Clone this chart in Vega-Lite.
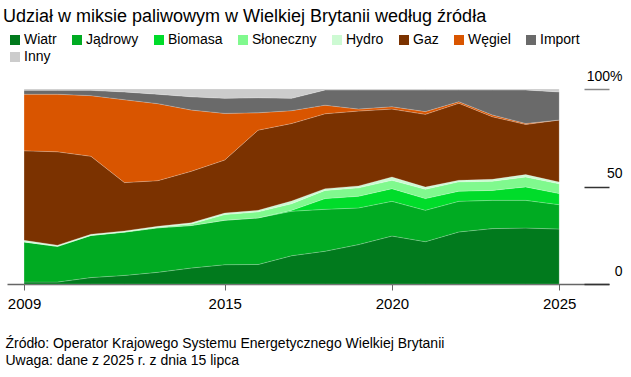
{
  "$schema": "https://vega.github.io/schema/vega-lite/v6.json",
  "autosize": {"type": "none"},
  "width": 602,
  "height": 195,
  "padding": {"left": 7, "top": 89, "right": 22, "bottom": 93},
  "background": "white",
  "config": {
    "font": "Liberation Sans",
    "view": {"stroke": null},
    "title": {"font": "Liberation Sans", "fontSize": 18, "fontWeight": "normal", "color": "#000000", "anchor": "start", "offset": 7, "dx": -2}
  },
  "title": "Udział w miksie paliwowym w Wielkiej Brytanii według źródła",
  "datasets": {
    "kolejnosc": [
      {"s":"Wiatr","k":1},{"s":"Jądrowy","k":2},{"s":"Biomasa","k":3},{"s":"Słoneczny","k":4},{"s":"Hydro","k":5},{"s":"Gaz","k":6},{"s":"Węgiel","k":7},{"s":"Import","k":8},{"s":"Inny","k":9}
    ]
  },
  "data": {
    "values": [
      {"r":2009,"s":"Wiatr","v":1.0},{"r":2009,"s":"Jądrowy","v":20.6},{"r":2009,"s":"Biomasa","v":0},{"r":2009,"s":"Słoneczny","v":0},{"r":2009,"s":"Hydro","v":0.8},{"r":2009,"s":"Gaz","v":45.9},{"r":2009,"s":"Węgiel","v":29.0},{"r":2009,"s":"Import","v":2.0},{"r":2009,"s":"Inny","v":0.7},
      {"r":2010,"s":"Wiatr","v":1.0},{"r":2010,"s":"Jądrowy","v":18.3},{"r":2010,"s":"Biomasa","v":0},{"r":2010,"s":"Słoneczny","v":0},{"r":2010,"s":"Hydro","v":0.6},{"r":2010,"s":"Gaz","v":47.9},{"r":2010,"s":"Węgiel","v":29.5},{"r":2010,"s":"Import","v":2.0},{"r":2010,"s":"Inny","v":0.7},
      {"r":2011,"s":"Wiatr","v":3.3},{"r":2011,"s":"Jądrowy","v":21.6},{"r":2011,"s":"Biomasa","v":0},{"r":2011,"s":"Słoneczny","v":0.1},{"r":2011,"s":"Hydro","v":0.5},{"r":2011,"s":"Gaz","v":40.0},{"r":2011,"s":"Węgiel","v":31.1},{"r":2011,"s":"Import","v":2.7},{"r":2011,"s":"Inny","v":0.7},
      {"r":2012,"s":"Wiatr","v":4.4},{"r":2012,"s":"Jądrowy","v":22.2},{"r":2012,"s":"Biomasa","v":0},{"r":2012,"s":"Słoneczny","v":0.2},{"r":2012,"s":"Hydro","v":0.4},{"r":2012,"s":"Gaz","v":24.8},{"r":2012,"s":"Węgiel","v":42.5},{"r":2012,"s":"Import","v":4.0},{"r":2012,"s":"Inny","v":1.5},
      {"r":2013,"s":"Wiatr","v":6.0},{"r":2013,"s":"Jądrowy","v":22.8},{"r":2013,"s":"Biomasa","v":0},{"r":2013,"s":"Słoneczny","v":0.3},{"r":2013,"s":"Hydro","v":0.5},{"r":2013,"s":"Gaz","v":23.4},{"r":2013,"s":"Węgiel","v":39.5},{"r":2013,"s":"Import","v":4.8},{"r":2013,"s":"Inny","v":2.7},
      {"r":2014,"s":"Wiatr","v":8.2},{"r":2014,"s":"Jądrowy","v":21.8},{"r":2014,"s":"Biomasa","v":0},{"r":2014,"s":"Słoneczny","v":0.8},{"r":2014,"s":"Hydro","v":0.6},{"r":2014,"s":"Gaz","v":26.4},{"r":2014,"s":"Węgiel","v":31.4},{"r":2014,"s":"Import","v":6.8},{"r":2014,"s":"Inny","v":4.0},
      {"r":2015,"s":"Wiatr","v":9.9},{"r":2015,"s":"Jądrowy","v":22.8},{"r":2015,"s":"Biomasa","v":0},{"r":2015,"s":"Słoneczny","v":2.9},{"r":2015,"s":"Hydro","v":0.8},{"r":2015,"s":"Gaz","v":27.2},{"r":2015,"s":"Węgiel","v":23.9},{"r":2015,"s":"Import","v":7.7},{"r":2015,"s":"Inny","v":4.8},
      {"r":2016,"s":"Wiatr","v":10.0},{"r":2016,"s":"Jądrowy","v":23.9},{"r":2016,"s":"Biomasa","v":0},{"r":2016,"s":"Słoneczny","v":3.1},{"r":2016,"s":"Hydro","v":0.8},{"r":2016,"s":"Gaz","v":41.1},{"r":2016,"s":"Węgiel","v":8.9},{"r":2016,"s":"Import","v":7.7},{"r":2016,"s":"Inny","v":4.5},
      {"r":2017,"s":"Wiatr","v":14.5},{"r":2017,"s":"Jądrowy","v":22.8},{"r":2017,"s":"Biomasa","v":0.5},{"r":2017,"s":"Słoneczny","v":3.4},{"r":2017,"s":"Hydro","v":1.4},{"r":2017,"s":"Gaz","v":39.7},{"r":2017,"s":"Węgiel","v":6.6},{"r":2017,"s":"Import","v":6.3},{"r":2017,"s":"Inny","v":4.8},
      {"r":2018,"s":"Wiatr","v":16.8},{"r":2018,"s":"Jądrowy","v":21.5},{"r":2018,"s":"Biomasa","v":5.5},{"r":2018,"s":"Słoneczny","v":4.2},{"r":2018,"s":"Hydro","v":0.9},{"r":2018,"s":"Gaz","v":38.4},{"r":2018,"s":"Węgiel","v":4.4},{"r":2018,"s":"Import","v":7.8},{"r":2018,"s":"Inny","v":0.5},
      {"r":2019,"s":"Wiatr","v":20.2},{"r":2019,"s":"Jądrowy","v":18.8},{"r":2019,"s":"Biomasa","v":6.0},{"r":2019,"s":"Słoneczny","v":4.3},{"r":2019,"s":"Hydro","v":1.0},{"r":2019,"s":"Gaz","v":38.4},{"r":2019,"s":"Węgiel","v":1.0},{"r":2019,"s":"Import","v":9.8},{"r":2019,"s":"Inny","v":0.5},
      {"r":2020,"s":"Wiatr","v":24.6},{"r":2020,"s":"Jądrowy","v":17.8},{"r":2020,"s":"Biomasa","v":6.5},{"r":2020,"s":"Słoneczny","v":4.3},{"r":2020,"s":"Hydro","v":1.7},{"r":2020,"s":"Gaz","v":34.8},{"r":2020,"s":"Węgiel","v":1.2},{"r":2020,"s":"Import","v":8.6},{"r":2020,"s":"Inny","v":0.5},
      {"r":2021,"s":"Wiatr","v":21.7},{"r":2021,"s":"Jądrowy","v":16.1},{"r":2021,"s":"Biomasa","v":6.0},{"r":2021,"s":"Słoneczny","v":4.8},{"r":2021,"s":"Hydro","v":1.1},{"r":2021,"s":"Gaz","v":37.3},{"r":2021,"s":"Węgiel","v":1.4},{"r":2021,"s":"Import","v":11.1},{"r":2021,"s":"Inny","v":0.5},
      {"r":2022,"s":"Wiatr","v":26.7},{"r":2022,"s":"Jądrowy","v":15.7},{"r":2022,"s":"Biomasa","v":5.2},{"r":2022,"s":"Słoneczny","v":4.8},{"r":2022,"s":"Hydro","v":0.8},{"r":2022,"s":"Gaz","v":39.5},{"r":2022,"s":"Węgiel","v":0.8},{"r":2022,"s":"Import","v":6.0},{"r":2022,"s":"Inny","v":0.5},
      {"r":2023,"s":"Wiatr","v":28.4},{"r":2023,"s":"Jądrowy","v":14.5},{"r":2023,"s":"Biomasa","v":5.1},{"r":2023,"s":"Słoneczny","v":4.7},{"r":2023,"s":"Hydro","v":1.0},{"r":2023,"s":"Gaz","v":32.1},{"r":2023,"s":"Węgiel","v":0.9},{"r":2023,"s":"Import","v":12.8},{"r":2023,"s":"Inny","v":0.5},
      {"r":2024,"s":"Wiatr","v":28.7},{"r":2024,"s":"Jądrowy","v":14.2},{"r":2024,"s":"Biomasa","v":6.9},{"r":2024,"s":"Słoneczny","v":5.1},{"r":2024,"s":"Hydro","v":1.2},{"r":2024,"s":"Gaz","v":25.7},{"r":2024,"s":"Węgiel","v":0.5},{"r":2024,"s":"Import","v":17.2},{"r":2024,"s":"Inny","v":0.5},
      {"r":2025,"s":"Wiatr","v":28.2},{"r":2025,"s":"Jądrowy","v":12.5},{"r":2025,"s":"Biomasa","v":5.7},{"r":2025,"s":"Słoneczny","v":5.0},{"r":2025,"s":"Hydro","v":0.9},{"r":2025,"s":"Gaz","v":31.8},{"r":2025,"s":"Węgiel","v":0},{"r":2025,"s":"Import","v":14.4},{"r":2025,"s":"Inny","v":1.5}
    ]
  },
  "transform": [
    {"lookup": "s", "from": {"data": {"name": "kolejnosc"}, "key": "s", "fields": ["k"]}}
  ],
  "mark": {"type": "area", "stroke": "#ffffff", "strokeOpacity": 0.3, "strokeWidth": 0.6},
  "encoding": {
    "x": {
      "field": "r", "type": "quantitative",
      "scale": {"domain": [2008.49, 2026.49], "nice": false, "zero": false},
      "axis": {
        "values": [2009, 2015, 2020, 2025], "format": "d", "grid": false,
        "domainColor": "#666666", "domainWidth": 1.5,
        "tickColor": "#666666", "tickWidth": 1, "tickSize": 6,
        "labelFontSize": 15, "labelColor": "#000000", "labelPadding": 6, "labelFlush": false,
        "title": ["Źródło: Operator Krajowego Systemu Energetycznego Wielkiej Brytanii", "Uwaga: dane z 2025 r. z dnia 15 lipca"],
        "titleFontSize": 14, "titleFontWeight": "normal", "titleColor": "#000000",
        "titleAnchor": "start", "titleAlign": "left", "titleBaseline": "top",
        "titleX": -2, "titleY": 52, "titleLineHeight": 17
      }
    },
    "y": {
      "field": "v", "type": "quantitative", "stack": "normalize",
      "scale": {"domain": [0, 1], "nice": false},
      "axis": {
        "orient": "right", "values": [0, 0.5, 1], "grid": false, "domain": false,
        "tickSize": -25, "tickWidth": 1.5,
        "tickColor": {"condition": {"test": "datum.value == 1", "value": "#888888"}, "value": "#333333"},
        "labelExpr": "datum.value == 1 ? '100%' : datum.value == 0.5 ? '50\u2002\u2004' : '0\u2002\u2004'",
        "labelAlign": "right", "labelBaseline": "alphabetic", "labelOffset": -9, "labelPadding": 38,
        "labelFontSize": 14, "labelColor": "#000000",
        "title": null
      }
    },
    "order": {"field": "k", "type": "quantitative", "sort": "ascending"},
    "color": {
      "field": "s", "type": "nominal",
      "sort": ["Wiatr", "Jądrowy", "Biomasa", "Słoneczny", "Hydro", "Gaz", "Węgiel", "Import", "Inny"],
      "scale": {
        "domain": ["Wiatr", "Jądrowy", "Biomasa", "Słoneczny", "Hydro", "Gaz", "Węgiel", "Import", "Inny"],
        "range": ["#017a1d", "#00ab22", "#00dc2a", "#80f98e", "#cdfad3", "#7b3200", "#d95500", "#6a6a6a", "#cccccc"]
      },
      "legend": {
        "orient": "none", "legendX": 1, "legendY": -56,
        "direction": "horizontal", "columns": 8, "gridAlign": "none",
        "title": null, "symbolType": "square", "symbolSize": 100, "symbolStrokeWidth": 0,
        "labelFontSize": 14, "labelColor": "#000000", "labelOffset": 2,
        "columnPadding": 13, "rowPadding": 3, "padding": 0
      }
    }
  }
}
